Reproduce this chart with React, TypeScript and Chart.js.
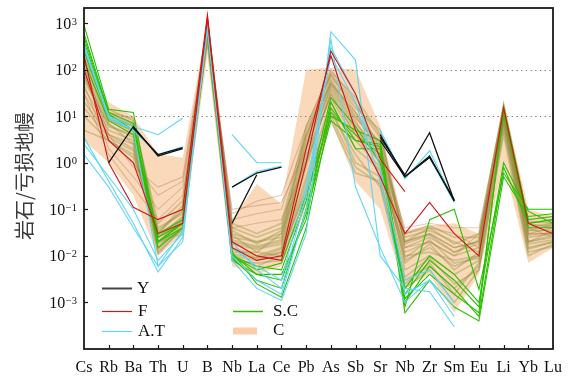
import React, { useEffect, useRef } from "react";
import { Chart, registerables } from "chart.js";
Chart.register(...registerables);

// ---- categories & ticks ----
const CATEGORIES = ["Cs","Rb","Ba","Th","U","B","Nb","La","Ce","Pb","As","Sb","Sr","Nb","Zr","Sm","Eu","Li","Yb","Lu"];
const Y_TICKS = [1e-3, 1e-2, 1e-1, 1, 10, 100, 1000];
const Y_TICK_EXP = ["\u22123", "\u22122", "\u22121", "0", "1", "2", "3"];
const DOTTED_LEVELS = [10, 100];
const Y_TITLE = "岩石/亏损地幔";

// ---- Y (black) ----
const Y1 = [null, 1, 6, 1.4, 2, null, 0.05, 0.55, null, null, null, null, 3.5, 0.55, 4.4, 0.15, null, null, null, null];
const Y2 = [null, null, 5.5, 1.5, 2.1, null, 0.3, 0.6, 0.8, null, null, null, 4, 0.5, 1.4, 0.15, null, null, null, null];
const Y3 = [null, null, null, null, null, null, null, null, null, null, null, null, 3, 0.5, 1.3, 0.16, null, null, null, null];

// ---- F (red) ----
const F1 = [200, 1, 0.11, 0.06, 0.1, 1500, 0.02, 0.01, 0.008, 1, 250, 30, 1.2, 0.24, null, null, null, null, null, null];
const F2 = [100, 3, 1, 0.03, 0.05, 1200, 0.015, 0.008, 0.01, 2, 200, 5, 0.5, 0.03, 0.14, 0.03, 0.01, 15, 0.05, 0.03];

// ---- A.T (cyan) ----
const AT1 = [350, 10, 6, 4, 9, null, 4, 1, 1, null, null, null, 5, 0.45, 1.8, 0.15, null, null, null, null];
const AT2 = [300, 9, 5, 1.5, 2.2, null, 0.3, 0.65, 0.85, null, null, null, 4, 0.5, 1.3, 0.14, null, null, null, null];
const AT3 = [3.5, 0.4, 0.05, 0.0045, 0.025, 900, 0.008, 0.002, 0.0011, 0.03, 650, 160, 0.01, 0.002, 0.0017, 0.0003, null, null, null, null];
const AT4 = [300, 10, 5, 0.006, 0.02, 1000, 0.01, 0.003, 0.0015, 0.1, 450, 0.3, 0.015, 0.001, 0.003, 0.0005, null, null, null, null];
const AT5 = [2.5, 0.5, 0.1, 0.008, 0.03, 700, 0.02, 0.005, 0.002, 0.2, 300, 30, 0.8, 0.003, 0.005, 0.001, null, null, null, null];
const AT6 = [1.5, 0.3, 0.04, 0.006, 0.035, 800, 0.015, 0.006, 0.003, 0.3, 200, 20, 0.4, 0.0015, 0.003, 0.0008, null, null, null, null];

// ---- S.C (green) ----
const SC1 = [900, 14, 12, 0.02, 0.05, 1300, 0.01, 0.005, 0.007, 0.2, 10, 5, 3, 0.0008, 0.06, 0.1, 0.0019, 0.6, 0.1, 0.1];
const SC2 = [600, 12, 7, 0.015, 0.04, 1100, 0.009, 0.003, 0.002, 0.1, 15, 3, 2.5, 0.0006, 0.003, 0.0008, 0.0004, 0.5, 0.07, 0.08];
const SC3 = [400, 10, 6, 0.02, 0.04, 900, 0.008, 0.004, 0.004, 0.06, 20, 2, 2, 0.001, 0.006, 0.002, 0.0005, 0.8, 0.05, 0.06];
const SC4 = [250, 9, 5, 0.03, 0.06, 800, 0.012, 0.0025, 0.0013, 0.04, 12, 4, 1.5, 0.002, 0.01, 0.004, 0.001, 1, 0.09, 0.05];
const SC5 = [150, 8, 4, 0.02, 0.05, 700, 0.01, 0.006, 0.005, 0.15, 25, 6, 1, 0.0015, 0.008, 0.003, 0.0008, 12, 0.04, 0.04];
const SC6 = [500, 11, 5, 0.025, 0.05, 1000, 0.011, 0.004, 0.003, 0.08, 8, 3, 2.2, 0.0012, 0.004, 0.0015, 0.0006, 15, 0.06, 0.07];

// ---- C samples (olive) ----
const C1 = [250, 14, 8, 0.05, 0.15, 1100, 0.05, 0.03, 0.05, 6, 80, 18, 3.5, 0.03, 0.045, 0.025, 0.025, 18, 0.05, 0.06];
const C2 = [150, 10, 6, 0.03, 0.1, 900, 0.03, 0.02, 0.03, 3, 60, 10, 2, 0.02, 0.03, 0.015, 0.02, 15, 0.04, 0.05];
const C3 = [100, 8, 5, 0.02, 0.06, 800, 0.02, 0.015, 0.02, 2, 40, 6, 1.5, 0.012, 0.02, 0.01, 0.015, 12, 0.03, 0.04];
const C4 = [60, 6, 4, 0.015, 0.05, 700, 0.015, 0.01, 0.015, 1, 30, 4, 1, 0.008, 0.015, 0.006, 0.01, 10, 0.025, 0.03];
const C5 = [40, 5, 3, 0.012, 0.04, 600, 0.01, 0.008, 0.012, 0.5, 20, 2, 0.7, 0.005, 0.01, 0.004, 0.008, 8, 0.02, 0.025];
const C6 = [20, 4, 2, 0.02, 0.03, 500, 0.012, 0.012, 0.01, 0.3, 15, 1, 0.5, 0.003, 0.006, 0.002, 0.006, 6, 0.015, 0.02];
const C7 = [10, 3, 1.5, 0.04, 0.08, 400, 0.008, 0.007, 0.008, 0.2, 8, 0.6, 0.4, 0.002, 0.005, 0.001, 0.005, 4, 0.01, 0.018];
const C8 = [5, 3, 1.3, 0.03, 0.12, 1000, 0.04, 0.025, 0.04, 4, 50, 12, 2.5, 0.025, 0.035, 0.02, 0.012, 16, 0.035, 0.035];
const C9 = [200, 12, 7, 0.025, 0.07, 1200, 0.025, 0.02, 0.025, 5, 70, 15, 5, 0.015, 0.025, 0.012, 0.018, 14, 0.045, 0.045];
const C10 = [80, 7, 2.5, 0.018, 0.035, 650, 0.018, 0.014, 0.018, 1.5, 25, 3, 0.8, 0.01, 0.012, 0.008, 0.01, 9, 0.02, 0.028];
const C11 = [300, 12, 9, 0.035, 0.09, 950, 0.035, 0.018, 0.035, 3.5, 90, 25, 4, 0.02, 0.04, 0.018, 0.03, 17, 0.055, 0.05];
const C12 = [120, 9, 4.5, 0.014, 0.045, 750, 0.014, 0.009, 0.014, 0.8, 35, 5, 1.2, 0.007, 0.018, 0.005, 0.012, 11, 0.018, 0.022];
const C13 = [30, 4, 2.5, 0.011, 0.04, 550, 0.009, 0.006, 0.01, 0.4, 12, 1.5, 0.3, 0.0025, 0.007, 0.0015, 0.007, 7, 0.012, 0.016];
const C14 = [180, 11, 6.5, 0.028, 0.065, 1050, 0.022, 0.016, 0.022, 2.5, 55, 9, 2.8, 0.018, 0.028, 0.012, 0.022, 13, 0.035, 0.045];
const C15 = [70, 6.5, 3.5, 0.02, 0.055, 850, 0.028, 0.012, 0.03, 1.2, 45, 7, 1.8, 0.009, 0.022, 0.007, 0.009, 10, 0.028, 0.032];
const C16 = [15, 3.5, 1.8, 0.025, 0.06, 450, 0.011, 0.009, 0.012, 0.25, 10, 0.8, 0.35, 0.0035, 0.009, 0.0025, 0.005, 5, 0.014, 0.02];

// ---- C samples (brown) ----
const CB1 = [80, 3, 1, 0.2, 0.4, 600, 0.1, 0.12, 0.14, 2, 50, 8, 1, 0.02, 0.03, 0.015, 0.02, 10, 0.03, 0.03];
const CB2 = [50, 2, 0.5, 0.1, 0.3, 800, 0.06, 0.08, 0.1, 4, 80, 12, 1.5, 0.03, 0.04, 0.03, 0.015, 12, 0.04, 0.025];
const CB3 = [30, 1.5, 0.3, 0.06, 0.2, 500, 0.04, 0.05, 0.06, 1, 30, 4, 0.6, 0.015, 0.02, 0.01, 0.03, 7, 0.02, 0.035];
const CB4 = [120, 4, 0.8, 0.3, 0.5, 900, 0.08, 0.15, 0.2, 6, 100, 20, 2, 0.04, 0.05, 0.04, 0.04, 15, 0.05, 0.04];

// ---- C envelope (band) ----
const C_LOW = [3, 1, 0.2, 0.01, 0.03, 200, 0.006, 0.004, 0.006, 0.1, 8, 0.4, 0.1, 0.002, 0.004, 0.0006, 0.004, 1, 0.007, 0.015];
const C_HIGH = [300, 20, 10, 1.5, 1.3, 1000, 0.06, 0.35, 0.13, 100, 110, 100, 6, 0.035, 0.045, 0.05, 0.03, 20, 0.1, 0.07];

const COL_Y = "#111111";
const COL_F = "#d01818";
const COL_AT = "#5ed6f4";
const COL_SC = "#2cc000";
const COL_OLIVE = "rgba(150,150,70,0.42)";
const COL_BROWN = "rgba(170,95,55,0.32)";
const COL_BAND = "rgba(247,190,140,0.6)";

const SERIF = '"Liberation Serif", "Times New Roman", serif';

function line(data: (number | null)[], color: string, order: number, width = 1) {
  return {
    data,
    borderColor: color,
    backgroundColor: color,
    borderWidth: width,
    pointRadius: 0,
    tension: 0,
    fill: false,
    order,
  };
}

const decorPlugin = {
  id: "decor",
  beforeDatasetsDraw(chart: any) {
    const { ctx, chartArea, scales } = chart;
    const y = scales.y;
    ctx.save();
    ctx.strokeStyle = "#777";
    ctx.lineWidth = 1.2;
    ctx.setLineDash([1.3, 3.4]);
    for (const v of DOTTED_LEVELS) {
      const py = Math.round(y.getPixelForValue(v)) + 0.5;
      ctx.beginPath();
      ctx.moveTo(chartArea.left, py);
      ctx.lineTo(chartArea.right, py);
      ctx.stroke();
    }
    ctx.restore();
  },
  afterDraw(chart: any) {
    const { ctx, chartArea, scales } = chart;
    const x = scales.x;
    const y = scales.y;
    const { left, right, top, bottom } = chartArea;
    ctx.save();
    // frame
    ctx.strokeStyle = "#1a1a1a";
    ctx.lineWidth = 1.8;
    ctx.strokeRect(left, top, right - left, bottom - top);
    // x ticks inward
    ctx.lineWidth = 1.2;
    for (let i = 1; i < CATEGORIES.length - 1; i++) {
      const px = Math.round(x.getPixelForValue(i)) + 0.5;
      ctx.beginPath();
      ctx.moveTo(px, bottom);
      ctx.lineTo(px, bottom - 4);
      ctx.stroke();
    }
    // y ticks inward
    for (const v of Y_TICKS) {
      const py = Math.round(y.getPixelForValue(v)) + 0.5;
      ctx.beginPath();
      ctx.moveTo(left, py);
      ctx.lineTo(left + 4, py);
      ctx.stroke();
    }
    // x labels
    ctx.fillStyle = "#111";
    ctx.font = `16px ${SERIF}`;
    ctx.textAlign = "center";
    ctx.textBaseline = "alphabetic";
    CATEGORIES.forEach((c, i) => {
      const px = x.getPixelForValue(i);
      ctx.fillText(c, px, 372);
    });
    // y labels 10^n
    Y_TICKS.forEach((v, i) => {
      const py = y.getPixelForValue(v);
      const exp = Y_TICK_EXP[i];
      ctx.font = `10.5px ${SERIF}`;
      const we = ctx.measureText(exp).width;
      ctx.font = `16px ${SERIF}`;
      const wb = ctx.measureText("10").width;
      const xEnd = 77;
      ctx.textAlign = "left";
      ctx.font = `16px ${SERIF}`;
      ctx.fillText("10", xEnd - we - 0.5 - wb, py + 5.5);
      ctx.font = `10.5px ${SERIF}`;
      ctx.fillText(exp, xEnd - we, py + 1.5);
    });
    // y title
    ctx.save();
    ctx.translate(24, 176);
    ctx.rotate(-Math.PI / 2);
    ctx.font = '20px "Noto Sans CJK SC", sans-serif';
    ctx.fillStyle = "#3a3a3a";
    ctx.textAlign = "center";
    ctx.textBaseline = "middle";
    ctx.fillText(Y_TITLE, 0, 0);
    ctx.restore();
    // legend
    const legendFont = `17px ${SERIF}`;
    const drawLineItem = (x0: number, yy: number, color: string, w: number, label: string, tx: number) => {
      ctx.strokeStyle = color;
      ctx.lineWidth = w;
      ctx.beginPath();
      ctx.moveTo(x0, yy + 0.5);
      ctx.lineTo(x0 + 30, yy + 0.5);
      ctx.stroke();
      ctx.fillStyle = "#111";
      ctx.font = legendFont;
      ctx.textAlign = "left";
      ctx.textBaseline = "middle";
      ctx.fillText(label, tx, yy + 1);
    };
    drawLineItem(102, 288, "#444", 2, "Y", 137);
    drawLineItem(102, 311, COL_F, 1.2, "F", 138);
    drawLineItem(102, 331, COL_AT, 1.2, "A.T", 138);
    drawLineItem(233, 311, COL_SC, 1.5, "S.C", 273);
    ctx.fillStyle = "rgba(248,206,168,1)";
    ctx.fillRect(233, 327.5, 24, 7);
    ctx.fillStyle = "#111";
    ctx.font = legendFont;
    ctx.textAlign = "left";
    ctx.textBaseline = "middle";
    ctx.fillText("C", 273, 331);
    ctx.restore();
  },
};

export default function App() {
  const ref = useRef<HTMLCanvasElement | null>(null);
  useEffect(() => {
    if (!ref.current) return;
    const datasets: any[] = [
      { data: C_LOW, borderWidth: 0, pointRadius: 0, fill: false, order: 20, borderColor: "rgba(0,0,0,0)" },
      { data: C_HIGH, borderWidth: 0, pointRadius: 0, fill: "-1", backgroundColor: COL_BAND, order: 20, borderColor: "rgba(0,0,0,0)" },
      ...[C1, C2, C3, C4, C5, C6, C7, C8, C9, C10, C11, C12, C13, C14, C15, C16].map((d) => line(d, COL_OLIVE, 10, 1.7)),
      ...[CB1, CB2, CB3, CB4].map((d) => line(d, COL_BROWN, 9, 1.1)),
      ...[SC1, SC2, SC3, SC4, SC5, SC6].map((d) => line(d, COL_SC, 4, 1.1)),
      ...[AT1, AT2, AT3, AT4, AT5, AT6].map((d) => line(d, COL_AT, 3, 1.1)),
      ...[F1, F2].map((d) => line(d, COL_F, 2, 1.1)),
      ...[Y1, Y2, Y3].map((d) => line(d, COL_Y, 1, 1.3)),
    ];
    const chart = new Chart(ref.current, {
      type: "line",
      data: { labels: CATEGORIES, datasets },
      plugins: [decorPlugin],
      options: {
        animation: false,
        responsive: false,
        maintainAspectRatio: false,
        devicePixelRatio: 1,
        layout: { padding: { top: 8, right: 20, left: 0, bottom: 0 } },
        plugins: {
          legend: { display: false },
          tooltip: { enabled: false },
          filler: { drawTime: "beforeDatasetsDraw" },
        },
        scales: {
          x: {
            type: "category",
            offset: false,
            grid: { display: false },
            border: { display: false },
            ticks: { display: false },
            afterFit: (s: any) => { s.height = 27; },
          },
          y: {
            type: "logarithmic",
            min: 1e-4,
            max: 2100,
            grid: { display: false },
            border: { display: false },
            ticks: { display: false },
            afterFit: (s: any) => { s.width = 84; },
          },
        },
      } as any,
    });
    return () => chart.destroy();
  }, []);
  return (
    <div style={{ position: "absolute", left: 0, top: 0, width: 573, height: 376, background: "#fff" }}>
      <canvas ref={ref} width={573} height={376} style={{ display: "block", width: 573, height: 376 }} />
    </div>
  );
}
